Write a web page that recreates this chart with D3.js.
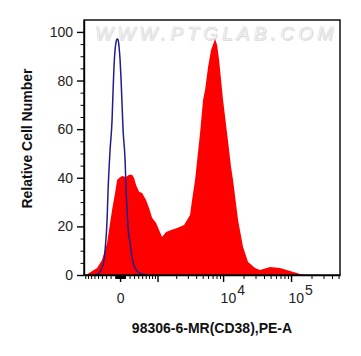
<!DOCTYPE html>
<html>
<head>
<meta charset="utf-8">
<script src="https://cdn.jsdelivr.net/npm/d3@7"></script>
<style>
  html, body { margin: 0; padding: 0; background: #fff; }
  svg { display: block; }
</style>
</head>
<body>
<svg id="chart" width="361" height="356"></svg>
<script>
// ---- Data ----
// Stained sample (red filled histogram): PE-A intensity and relative cell number
const redIntensity = [-870, -766, -526, -396, -278, -168, -104, -62, -21, 41, 125, 189, 255, 301, 348, 421, 499, 610, 701, 800, 944, 1063, 1193, 1386, 1664, 2061, 2634, 2922, 3240, 3472, 3850, 4567, 5059, 5417, 6000, 6641, 7612, 8145, 8719, 9990, 11440, 13100, 14017, 16608, 19674, 23303, 29542, 34990, 49094, 68860, 96660, 135640, 160690];
const redCount     = [0, 0.8, 2.9, 6.2, 13.2, 26.7, 33.7, 39.1, 39.9, 40.7, 40.3, 41.2, 41.2, 39.9, 37.0, 34.2, 33.7, 30.9, 27.6, 23.5, 21.4, 18.5, 15.6, 17.7, 18.5, 19.3, 20.6, 22.6, 24.7, 30.9, 39.1, 58.4, 72.0, 76.1, 85.6, 92.6, 97.1, 94.7, 88.5, 72.0, 58.4, 44.4, 39.1, 22.6, 11.5, 5.3, 2.9, 2.1, 3.3, 2.9, 1.6, 0.4, 0];

// Control (blue outline histogram)
const blueIntensity = [-581, -472, -421, -348, -324, -278, -255, -211, -168, -146, -125, -104, -83, -62, -41, -21, 0, 21, 41, 62, 104, 125, 146, 168, 211, 255, 301, 372, 499, 670];
const blueCount     = [0, 0.8, 2.1, 6.2, 10.3, 22.6, 35.0, 51.4, 63.8, 76.1, 86.4, 92.6, 95.9, 97.1, 96.7, 93.8, 88.5, 80.2, 70.0, 59.7, 47.3, 35.0, 26.7, 19.3, 13.2, 7.0, 3.7, 1.6, 0.4, 0];

// Axis ticks
const yMajorTicks = [0, 20, 40, 60, 80, 100];
const yMinorTicks = [5, 10, 15, 25, 30, 35, 45, 50, 55, 65, 70, 75, 85, 90, 95, 105];
const xMajorTicks = [0, 1000, 10000, 100000];
const xMinorTicks = [-900, -800, -700, -600, -500, -400, -300, -200, -100,
  -90, -80, -70, -60, -50, -40, -30, -20, -10, 10, 20, 30, 40, 50, 60, 70, 80, 90,
  100, 200, 300, 400, 500, 600, 700, 800, 900,
  2000, 3000, 4000, 5000, 6000, 7000, 8000, 9000,
  20000, 30000, 40000, 50000, 60000, 70000, 80000, 90000,
  200000, 300000, 400000, 500000];
const xTickLabels = [{v: 0, base: "0", sup: ""}, {v: 10000, base: "10", sup: "4"}, {v: 100000, base: "10", sup: "5"}];

const xTitle = "98306-6-MR(CD38),PE-A";
const yTitle = "Relative Cell Number";
const watermark = "WWW.PTGLAB.COM";

// ---- Layout ----
const plot = {left: 84, right: 340, top: 20, bottom: 275};
const C = 611; // biexponential-like width constant
const xDomain = [-947, 525000];
const yDomain = [0, 104.9];

const svg = d3.select("#chart");
const xLin = d3.scaleLinear()
  .domain(xDomain.map(v => Math.asinh(v / C)))
  .range([plot.left, plot.right]);
const x = v => xLin(Math.asinh(v / C));
const y = d3.scaleLinear().domain(yDomain).range([plot.bottom, plot.top]);

const font = "Arial, 'Liberation Sans', Helvetica, sans-serif";

// watermark (shadow + light outlined text)
svg.append("text")
  .attr("x", 96).attr("y", 41)
  .attr("font-family", font).attr("font-size", 19).attr("font-style", "italic")
  .attr("textLength", 238).attr("lengthAdjust", "spacing")
  .attr("fill", "#e4e4e4")
  .text(watermark);
svg.append("text")
  .attr("x", 95).attr("y", 40)
  .attr("font-family", font).attr("font-size", 19).attr("font-style", "italic")
  .attr("textLength", 238).attr("lengthAdjust", "spacing")
  .attr("fill", "#fafafa")
  .attr("stroke", "#d2d2d2")
  .attr("stroke-width", 0.5)
  .text(watermark);

svg.append("clipPath").attr("id", "clip")
  .append("rect").attr("x", plot.left).attr("y", plot.top)
  .attr("width", plot.right - plot.left).attr("height", plot.bottom - plot.top);

const g = svg.append("g").attr("clip-path", "url(#clip)");

const redData = redIntensity.map((v, i) => ({v, c: redCount[i]}));
const blueData = blueIntensity.map((v, i) => ({v, c: blueCount[i]}));

g.append("path")
  .datum(redData)
  .attr("fill", "#ff0000")
  .attr("d", d3.area().x(d => x(d.v)).y0(y(0)).y1(d => y(d.c)).curve(d3.curveLinear));

g.append("path")
  .datum(blueData)
  .attr("fill", "none")
  .attr("stroke", "#1e1e8c")
  .attr("stroke-width", 1.5)
  .attr("d", d3.line().x(d => x(d.v)).y(d => y(d.c)).curve(d3.curveMonotoneX));

// frame
svg.append("rect")
  .attr("x", plot.left).attr("y", plot.top)
  .attr("width", plot.right - plot.left).attr("height", plot.bottom - plot.top)
  .attr("fill", "none").attr("stroke", "#000").attr("stroke-width", 1.4);

// Y axis
const yAxis = d3.axisLeft(y).tickValues(yMajorTicks).tickSize(7).tickPadding(4).tickSizeOuter(0);
const yg = svg.append("g").attr("transform", `translate(${plot.left},0)`).call(yAxis);
yg.select(".domain").attr("stroke-width", 1.4);
yg.selectAll(".tick line").attr("stroke-width", 1.4);
yg.selectAll(".tick text").attr("font-family", font).attr("font-size", 14).attr("fill", "#222");
const ygm = svg.append("g").attr("transform", `translate(${plot.left},0)`)
  .call(d3.axisLeft(y).tickValues(yMinorTicks.filter(v => v <= yDomain[1])).tickSize(3.5).tickFormat("").tickSizeOuter(0));
ygm.select(".domain").remove();

// X axis
const xAxisScale = d3.scaleLinear().domain(xLin.domain()).range(xLin.range());
const xg = svg.append("g").attr("transform", `translate(0,${plot.bottom})`)
  .call(d3.axisBottom(xAxisScale).tickValues(xMajorTicks.map(v => Math.asinh(v / C))).tickSize(7).tickFormat("").tickSizeOuter(0));
xg.select(".domain").attr("stroke-width", 1.4);
xg.selectAll(".tick line").attr("stroke-width", 1.4);
const xgm = svg.append("g").attr("transform", `translate(0,${plot.bottom})`)
  .call(d3.axisBottom(xAxisScale).tickValues(xMinorTicks.filter(v => v >= xDomain[0] && v <= xDomain[1]).map(v => Math.asinh(v / C))).tickSize(4).tickFormat("").tickSizeOuter(0));
xgm.select(".domain").remove();

// X tick labels
xTickLabels.forEach(t => {
  const tx = svg.append("text")
    .attr("y", 303)
    .attr("font-family", font).attr("font-size", 14).attr("fill", "#222");
  if (t.sup) {
    tx.attr("x", x(t.v) - 2.5).attr("text-anchor", "start");
    tx.append("tspan").text(t.base);
    tx.append("tspan").attr("dy", -8).attr("dx", 1).text(t.sup);
  } else {
    tx.attr("x", x(t.v) + 0.5).attr("text-anchor", "middle").text(t.base);
  }
});

// Titles
svg.append("text")
  .attr("x", (plot.left + plot.right) / 2).attr("y", 333)
  .attr("text-anchor", "middle")
  .attr("font-family", font).attr("font-weight", "bold").attr("font-size", 14).attr("fill", "#111")
  .text(xTitle);

svg.append("text")
  .attr("transform", "translate(32,138.5) rotate(-90)")
  .attr("text-anchor", "middle")
  .attr("font-family", font).attr("font-weight", "bold").attr("font-size", 14).attr("fill", "#111")
  .text(yTitle);
</script>
</body>
</html>
